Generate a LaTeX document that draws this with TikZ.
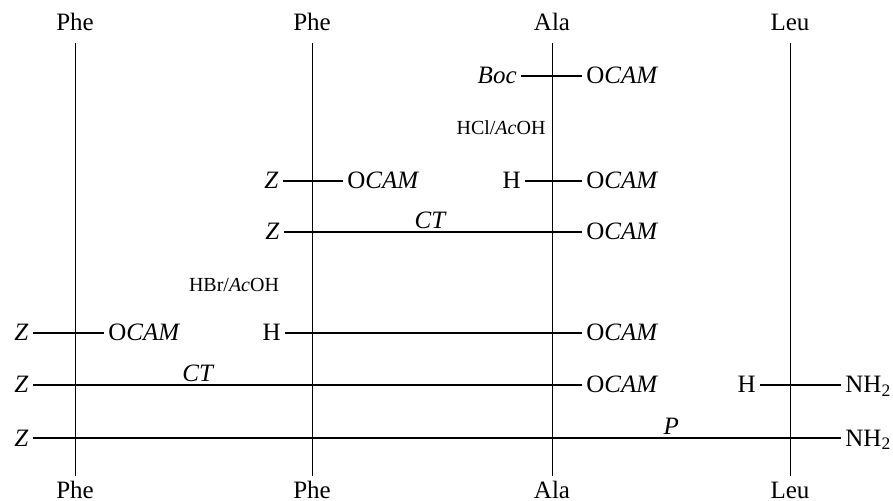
\documentclass[tikz,border=0pt]{standalone}
\usepackage{fontspec}
\setmainfont{Liberation Serif}
\usetikzlibrary{positioning}
\newcommand{\ocam}{O\textit{CAM}}
\tikzset{
  chain/.style = {line width=0.5pt},
  bond/.style  = {line width=0.7pt},
  res/.style   = {font=\fontsize{12.5}{15}\selectfont, inner sep=2pt,
                  text height=9pt, text depth=4pt},
  grp/.style   = {font=\fontsize{12.5}{15}\selectfont, inner sep=2pt,
                  text height=10pt, text depth=2pt},
  reag/.style  = {font=\fontsize{10}{12}\selectfont, inner sep=1pt},
  lbl/.style   = {font=\fontsize{12.5}{15}\selectfont\itshape, anchor=base,
                  yshift=1.5pt, inner sep=0pt},
}
\begin{document}
\begin{tikzpicture}[x=0.5pt, y=-0.5pt]
\useasboundingbox (0,0) rectangle (893,501);
% residues, top and bottom
\node[res, anchor=base] (pheA)  at (75,31)  {Phe};
\node[res, anchor=base] (pheB)  at (312,31) {Phe};
\node[res, anchor=base] (alaC)  at (552,31) {Ala};
\node[res, anchor=base] (leuD)  at (790,31) {Leu};
\node[res, anchor=base] (pheAb) at (75,498)  {Phe};
\node[res, anchor=base] (pheBb) at (312,498) {Phe};
\node[res, anchor=base] (alaCb) at (552,498) {Ala};
\node[res, anchor=base] (leuDb) at (790,498) {Leu};
\draw[chain] (pheA) -- (pheAb);
\draw[chain] (pheB) -- (pheBb);
\draw[chain] (alaC) -- (alaCb);
\draw[chain] (leuD) -- (leuDb);
% Boc-Ala-OCAM
\node[grp, anchor=east] (boc)  at (521,76) {\textit{Boc}};
\node[grp, anchor=west] (ocA1) at (582,76) {\ocam};
\draw[bond] (boc) -- (ocA1);
\node[reag] (hcl) at (501,128) {HCl/\textit{Ac}OH};
% Z-Phe-OCAM, H-Ala-OCAM
\node[grp, anchor=east] (zB1)  at (283,181) {\textit{Z}};
\node[grp, anchor=west] (ocB1) at (343,181) {\ocam};
\node[grp, anchor=east] (hA)   at (525,181) {H};
\node[grp, anchor=west] (ocA2) at (582,181) {\ocam};
\draw[bond] (zB1) -- (ocB1);
\draw[bond] (hA) -- (ocA2);
% Z-Phe-Ala-OCAM
\node[grp, anchor=east] (zB2)  at (284,232) {\textit{Z}};
\node[grp, anchor=west] (ocA3) at (582,232) {\ocam};
\draw[bond] (zB2) -- node[lbl, pos=0.49] {CT} (ocA3);
\node[reag] (hbr) at (234,285) {HBr/\textit{Ac}OH};
% Z-Phe-OCAM, H-Phe-Ala-OCAM
\node[grp, anchor=east] (zA1)  at (33,333)  {\textit{Z}};
\node[grp, anchor=west] (ocA4) at (104,333) {\ocam};
\node[grp, anchor=east] (hB)   at (285,333) {H};
\node[grp, anchor=west] (ocA5) at (582,333) {\ocam};
\draw[bond] (zA1) -- (ocA4);
\draw[bond] (hB) -- (ocA5);
% Z-Phe-Phe-Ala-OCAM, H-Leu-NH2
\node[grp, anchor=east] (zA2)  at (33,385)  {\textit{Z}};
\node[grp, anchor=west] (ocA6) at (582,385) {\ocam};
\node[grp, anchor=east] (hD)   at (760,385) {H};
\node[grp, anchor=west] (nhD1) at (841,385) {NH\textsubscript{2}};
\draw[bond] (zA2) -- node[lbl, pos=0.3] {CT} (ocA6);
\draw[bond] (hD) -- (nhD1);
% Z-Phe-Phe-Ala-Leu-NH2
\node[grp, anchor=east] (zA3)  at (33,438)  {\textit{Z}};
\node[grp, anchor=west] (nhD2) at (841,438) {NH\textsubscript{2}};
\draw[bond] (zA3) -- node[lbl, pos=0.79] {P} (nhD2);
\end{tikzpicture}
\end{document}
